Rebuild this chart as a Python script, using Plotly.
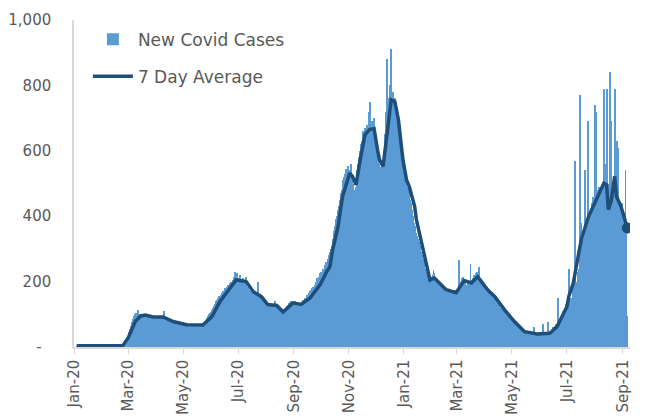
import pandas as pd
import plotly.graph_objects as go

# ---- Daily new cases, starting 2020-01-04 (one value per day) ----
start_date = "2020-01-04"
daily_cases = [
    # Jan 4-31 2020
    3,4,4,5,3,4,5,4,3,4,5,4,4,3,5,4,4,5,3,4,4,5,4,3,4,5,4,4,
    # Feb 2020
    4,5,4,3,4,5,4,4,5,3,4,4,5,4,4,3,5,4,4,5,4,4,5,6,10,15,20,25,30,
    # Mar 2020
    35,45,55,65,75,85,90,95,100,105,100,112,98,100,102,97,95,100,93,92,96,90,92,95,88,90,92,94,90,93,91,
    # Apr 2020
    92,90,95,88,93,91,89,94,90,110,88,86,90,85,87,84,86,82,80,83,78,80,76,79,75,77,74,76,72,74,
    # May 2020
    70,68,72,66,69,65,70,67,64,68,66,70,65,69,67,63,68,66,71,64,67,69,65,70,72,78,82,88,95,100,105,
    # Jun 2020
    108,112,118,125,130,128,140,145,150,155,152,160,165,170,168,175,180,178,185,190,188,195,200,198,205,210,215,230,220,225,
    # Jul 2020
    210,205,220,200,208,195,212,200,190,215,185,180,175,170,165,168,160,175,150,165,158,155,200,150,160,148,152,155,140,145,135,
    # Aug 2020
    135,130,128,125,132,120,128,130,125,127,140,120,125,128,118,112,110,105,78,108,102,115,120,125,128,130,135,138,140,132,137,
    # Sep 2020
    135,140,128,132,125,130,127,135,124,130,145,138,150,148,155,160,150,165,170,175,180,185,175,190,195,200,210,205,215,225,
    # Oct 2020
    230,220,240,235,250,245,260,255,270,280,290,300,310,330,340,355,370,390,400,420,430,450,470,480,500,510,520,530,545,540,555,
    # Nov 2020
    540,535,560,520,515,500,480,470,490,540,560,580,600,620,630,610,660,640,670,650,680,660,720,750,680,650,690,660,700,640,
    # Dec 2020
    640,600,580,560,470,550,540,560,520,600,650,720,880,700,720,760,800,910,760,780,740,760,720,700,690,680,640,620,600,580,550,
    # Jan 2021
    530,520,510,500,490,485,470,450,440,420,400,380,370,360,350,340,330,320,310,290,280,270,260,250,240,230,220,210,200,195,205,
    # Feb 2021
    215,220,235,225,210,205,200,195,190,185,192,180,178,139,175,170,168,160,172,165,168,170,160,165,155,170,175,165,
    # Mar 2021
    170,180,265,190,200,210,205,215,195,200,190,185,200,195,190,255,200,205,210,220,215,225,230,220,245,210,205,200,195,185,190,
    # Apr 2021
    185,180,170,175,165,170,160,155,158,150,148,152,140,135,130,132,125,120,118,115,110,112,108,105,100,95,98,92,90,85,
    # May 2021
    82,80,78,75,72,70,66,62,60,58,55,50,48,46,45,44,42,50,40,38,45,42,40,38,60,35,40,42,38,40,36,
    # Jun 2021
    40,45,38,70,42,30,45,40,35,75,42,30,40,50,38,60,55,65,70,55,150,75,85,90,95,100,110,105,120,130,
    # Jul 2021
    120,140,240,110,120,150,130,200,210,570,190,200,230,240,260,770,380,150,350,360,540,370,380,690,660,160,400,420,440,460,450,
    # Aug 2021
    740,720,470,480,460,490,300,490,135,480,790,560,500,790,480,236,500,840,690,500,200,480,790,520,470,630,610,450,420,430,440,
    # Sep 1-6 2021
    420,410,400,540,380,95,
]

# ---- 7 day average ----
avg_dates = [
    "2020-01-04","2020-02-24","2020-03-01","2020-03-09","2020-03-15","2020-03-20","2020-03-29",
    "2020-04-09","2020-04-20","2020-05-05","2020-05-23","2020-06-02","2020-06-11","2020-06-22",
    "2020-06-29","2020-07-10","2020-07-18","2020-07-27","2020-08-03","2020-08-13","2020-08-20",
    "2020-08-31","2020-09-09","2020-09-19","2020-09-30","2020-10-07","2020-10-11","2020-10-14",
    "2020-10-20","2020-10-25","2020-11-02","2020-11-05","2020-11-09","2020-11-13","2020-11-16",
    "2020-11-19","2020-11-24","2020-11-29","2020-12-03","2020-12-05","2020-12-09","2020-12-13",
    "2020-12-16","2020-12-18","2020-12-22","2020-12-26","2020-12-31","2021-01-04","2021-01-07",
    "2021-01-13","2021-01-15","2021-01-22","2021-01-30","2021-02-04","2021-02-12","2021-02-17",
    "2021-02-28","2021-03-09","2021-03-17","2021-03-24","2021-04-04","2021-04-12","2021-04-23",
    "2021-05-04","2021-05-15","2021-05-29","2021-06-12","2021-06-20","2021-07-01","2021-07-03",
    "2021-07-08","2021-07-17","2021-07-25","2021-08-03","2021-08-11","2021-08-14","2021-08-16",
    "2021-08-19","2021-08-23","2021-08-25","2021-08-30","2021-09-06",
]
avg_values = [
    4, 4, 27, 78, 95, 98, 92,
    92, 78, 68, 67, 93, 139, 180,
    205, 200, 169, 154, 130, 127, 107,
    135, 130, 150, 190, 228, 246, 297,
    368, 460, 532, 522, 496, 563, 613,
    650, 665, 668, 600, 573, 552, 644,
    695, 756, 751, 695, 573, 511, 491,
    430, 389, 307, 205, 211, 190, 175,
    166, 203, 196, 215, 175, 154, 113,
    77, 47, 40, 42, 62, 123, 154,
    195, 330, 399, 450, 501, 496, 420,
    445, 522, 460, 430, 364,
]

y_tickvals = [0, 200, 400, 600, 800, 1000]
y_ticktext = ["-\u00a0\u00a0", "200", "400", "600", "800", "1,000"]

bar_dates = pd.date_range(start=start_date, periods=len(daily_cases), freq="D")

BAR_COLOR = "#5B9BD5"
LINE_COLOR = "#1F4E79"
TEXT_COLOR = "#595959"
AXIS_COLOR = "#D9D9D9"
FONT = "DejaVu Sans"

fig = go.Figure()
fig.add_trace(go.Bar(
    x=bar_dates, y=daily_cases, name="New Covid Cases",
    marker=dict(color=BAR_COLOR, line=dict(width=0)),
    legendgroup="a",
))
fig.add_trace(go.Scatter(
    x=avg_dates, y=avg_values, name="7 Day Average", mode="lines",
    line=dict(color=LINE_COLOR, width=3.5),
    legendgroup="b",
))
fig.add_trace(go.Scatter(
    x=[avg_dates[-1]], y=[avg_values[-1]], mode="markers",
    marker=dict(color=LINE_COLOR, size=11),
    showlegend=False, hoverinfo="skip",
))

# the page body adds an 8px offset, so the figure is 8px smaller
fig.update_layout(
    width=653, height=412,
    margin=dict(l=66, r=31, t=12, b=73, autoexpand=False),
    paper_bgcolor="white", plot_bgcolor="white",
    bargap=0,
    font=dict(family=FONT, color=TEXT_COLOR, size=15),
    showlegend=True,
    legend=dict(
        x=0.025, y=0.995, xanchor="left", yanchor="top",
        bgcolor="rgba(0,0,0,0)", font=dict(size=17, color=TEXT_COLOR),
        traceorder="grouped", tracegroupgap=12, itemwidth=40,
    ),
    xaxis=dict(
        type="date", automargin=False,
        range=["2020-01-01", "2021-09-09"],
        tick0="2020-01-01", dtick="M2", tickformat="%b-%y",
        tickangle=-90,
        showgrid=False, zeroline=False,
        showline=True, linecolor=AXIS_COLOR, linewidth=1.5,
        ticks="outside", ticklen=5, tickcolor=AXIS_COLOR,
        tickfont=dict(size=15, color=TEXT_COLOR),
    ),
    yaxis=dict(
        range=[0, 1000], automargin=False,
        tickvals=y_tickvals, ticktext=y_ticktext,
        showgrid=False, zeroline=False,
        showline=True, linecolor=AXIS_COLOR, linewidth=1.5,
        ticks="", ticklabelstandoff=18,
        tickfont=dict(size=15, color=TEXT_COLOR),
    ),
)

fig.write_html("out.html")
